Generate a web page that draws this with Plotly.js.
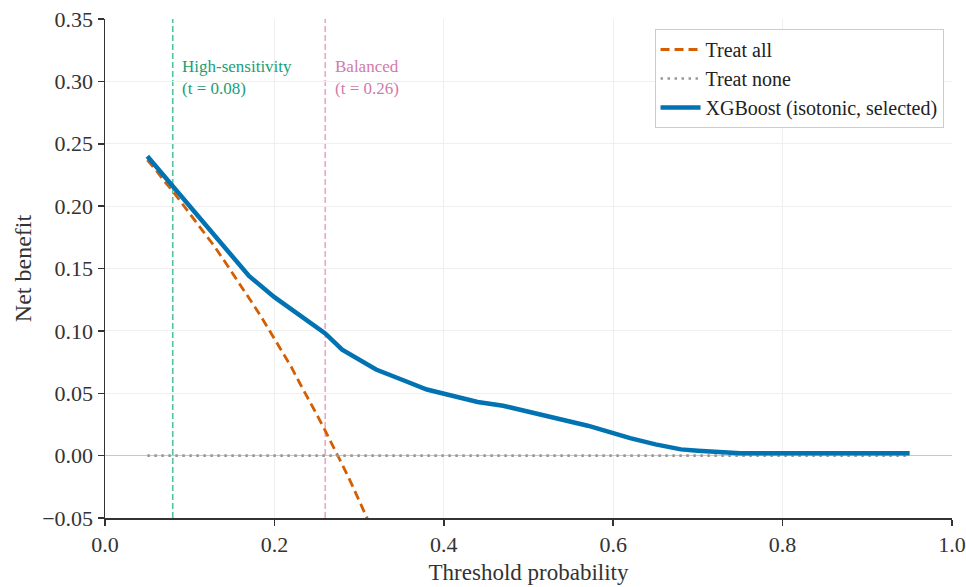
<!DOCTYPE html>
<html><head><meta charset="utf-8">
<script src="https://cdn.plot.ly/plotly-3.0.1.min.js"></script>
<style>html,body{margin:0;padding:0;background:#fff}#c{width:966px;height:587px}</style>
</head><body><div id="c"></div>
<script>
const treatAllT = [0.05,0.06,0.07,0.08,0.09,0.10,0.11,0.12,0.13,0.14,0.15,0.16,0.17,0.18,0.19,0.20,0.21,0.22,0.23,0.24,0.25,0.26,0.27,0.28,0.29,0.30,0.31,0.32];
const treatAllNB = [0.237,0.229,0.220,0.212,0.203,0.194,0.185,0.176,0.167,0.157,0.147,0.137,0.127,0.116,0.105,0.094,0.082,0.071,0.058,0.046,0.033,0.020,0.007,-0.007,-0.021,-0.036,-0.051,-0.066];
const treatNoneT = [0.05,0.95];
const treatNoneNB = [0,0];
const modelT = [0.05,0.08,0.10,0.12,0.15,0.17,0.20,0.23,0.26,0.28,0.30,0.32,0.35,0.38,0.41,0.44,0.47,0.50,0.54,0.57,0.60,0.62,0.65,0.68,0.70,0.75,0.80,0.85,0.90,0.95];
const modelNB = [0.240,0.216,0.200,0.184,0.161,0.144,0.127,0.112,0.098,0.085,0.077,0.069,0.061,0.053,0.048,0.043,0.040,0.035,0.029,0.024,0.018,0.014,0.009,0.005,0.004,0.002,0.002,0.002,0.002,0.002];
const thresholds = [0.08, 0.26];
const thresholdLabels = ["High-sensitivity<br>(t = 0.08)", "Balanced<br>(t = 0.26)"];
const thresholdColors = ["rgba(40,180,130,0.8)", "rgba(232,150,196,0.85)"];
const thresholdTextColors = ["#1a9e78", "#d27aaa"];

const F = "Liberation Serif, Times New Roman, serif";
const traces = [
  {x: treatAllT, y: treatAllNB, mode: 'lines', name: 'Treat all',
   line: {color: '#d55e00', width: 2.8, dash: '9px,5px'}},
  {x: treatNoneT, y: treatNoneNB, mode: 'lines', name: 'Treat none',
   line: {color: '#999999', width: 2.6, dash: '2.5px,4.5px'}},
  {x: modelT, y: modelNB, mode: 'lines', name: 'XGBoost (isotonic, selected)',
   line: {color: '#0173b2', width: 4.5}}
];
const shapes = thresholds.map((t, i) => ({
  type: 'line', xref: 'x', yref: 'paper', x0: t, x1: t, y0: 0, y1: 1,
  line: {color: thresholdColors[i], width: 1.6, dash: '6px,3px'}, layer: 'below'
}));
const annotations = thresholds.map((t, i) => ({
  x: t + 0.009, y: 0.303, xref: 'x', yref: 'y', text: thresholdLabels[i],
  showarrow: false, xanchor: 'left', yanchor: 'middle', align: 'left',
  font: {family: F, size: 17, color: thresholdTextColors[i]}
}));
const layout = {
  width: 966, height: 587,
  margin: {l: 105, r: 14, t: 19, b: 69},
  paper_bgcolor: '#fff', plot_bgcolor: '#fff',
  font: {family: F, size: 20, color: '#333'},
  showlegend: true,
  legend: {x: 0.99, y: 0.98, xanchor: 'right', yanchor: 'top',
    bgcolor: 'rgba(255,255,255,0.9)', bordercolor: '#cccccc', borderwidth: 1,
    font: {family: F, size: 20, color: '#222'}, itemwidth: 40, tracegroupgap: 0},
  xaxis: {range: [0, 1], tickvals: [0,0.2,0.4,0.6,0.8,1.0], ticktext: ['0.0','0.2','0.4','0.6','0.8','1.0'],
    showgrid: true, gridcolor: '#efefef', gridwidth: 1, zeroline: false,
    showline: true, linecolor: '#333', linewidth: 1.5, ticks: 'outside', ticklen: 6, tickwidth: 1.5, tickcolor: '#333',
    tickfont: {family: F, size: 22, color: '#333'},
    title: {text: 'Threshold probability', font: {family: F, size: 23, color: '#333'}, standoff: 8}},
  yaxis: {range: [-0.05, 0.35], tickvals: [-0.05,0,0.05,0.1,0.15,0.2,0.25,0.3,0.35],
    ticktext: ['\u22120.05','0.00','0.05','0.10','0.15','0.20','0.25','0.30','0.35'],
    showgrid: true, gridcolor: '#efefef', gridwidth: 1, zeroline: true, zerolinecolor: '#c8c8c8', zerolinewidth: 1.2,
    showline: true, linecolor: '#333', linewidth: 1.5, ticks: 'outside', ticklen: 6, tickwidth: 1.5, tickcolor: '#333',
    tickfont: {family: F, size: 22, color: '#333'},
    title: {text: 'Net benefit', font: {family: F, size: 24, color: '#333'}, standoff: 4}},
  shapes: shapes, annotations: annotations
};
Plotly.newPlot('c', traces, layout, {displayModeBar: false, staticPlot: true});
</script></body></html>
